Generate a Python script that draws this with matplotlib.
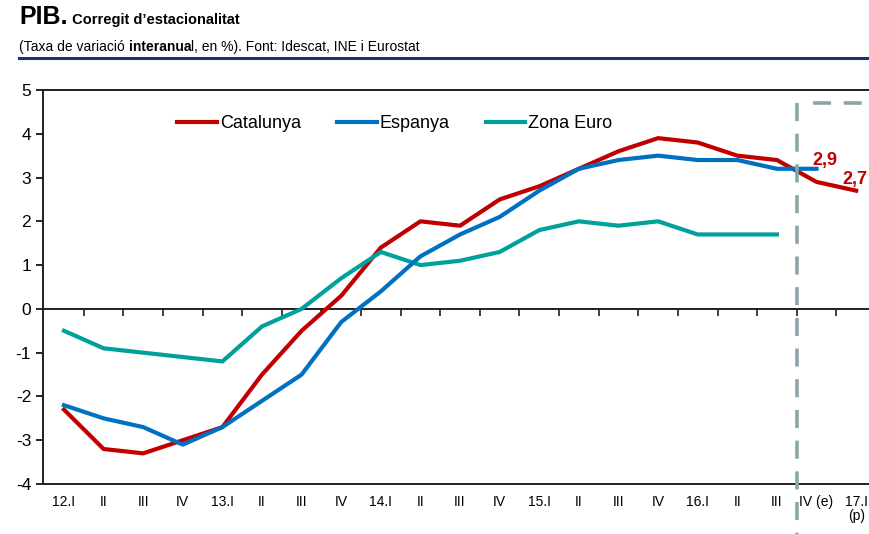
#!/usr/bin/env python3
"""
PIB corregit d'estacionalitat: Catalunya, Espanya i Zona Euro (taxa interanual).
"""

import matplotlib
matplotlib.use("Agg")
import matplotlib.pyplot as plt
from matplotlib.lines import Line2D

plt.rcParams["font.family"] = ["Liberation Sans", "DejaVu Sans"]
plt.rcParams["axes.unicode_minus"] = False

quarters = ["12.I", "II", "III", "IV", "13.I", "II", "III", "IV", "14.I", "II", "III", "IV",
            "15.I", "II", "III", "IV", "16.I", "II", "III", "IV (e)", "17.I\n(p)"]
catalunya = [-2.3, -3.2, -3.3, -3.0, -2.7, -1.5, -0.5, 0.3, 1.4, 2.0, 1.9, 2.5,
             2.8, 3.2, 3.6, 3.9, 3.8, 3.5, 3.4, 2.9, 2.7]
espanya = [-2.2, -2.5, -2.7, -3.1, -2.7, -2.1, -1.5, -0.3, 0.4, 1.2, 1.7, 2.1,
           2.7, 3.2, 3.4, 3.5, 3.4, 3.4, 3.2, 3.2]
zona_euro = [-0.5, -0.9, -1.0, -1.1, -1.2, -0.4, 0.0, 0.7, 1.3, 1.0, 1.1, 1.3,
             1.8, 2.0, 1.9, 2.0, 1.7, 1.7, 1.7]
labels_end = {19: "2,9", 20: "2,7"}

RED = "#C00000"
BLUE = "#0070C0"
TEAL = "#00A19A"
GREY = "#8CA5A8"

fig = plt.figure(figsize=(8.7, 5.34), dpi=100)
ax = fig.add_axes([0.0494, 0.0936, 0.9506, 0.7379])

ax.plot(range(len(catalunya)), catalunya, color=RED, lw=3, zorder=3)
ax.plot(range(len(zona_euro)), zona_euro, color=TEAL, lw=3, zorder=4)
ax.plot(range(len(espanya)), espanya, color=BLUE, lw=3, zorder=5)

# value labels for the last two Catalunya points
label_offsets = {19: (0.2, 0.48), 20: (-0.35, 0.25)}
for i, txt in labels_end.items():
    dx, dy = label_offsets[i]
    ax.text(i + dx, catalunya[i] + dy, txt, color=RED, fontsize=13, fontweight="bold",
            ha="center" if i == 19 else "left", va="center", zorder=6, clip_on=False)

# forecast separator
ax.plot([18.51, 18.51], [4.7, -5.3], color=GREY, lw=2.6, dashes=(5, 3.5),
        clip_on=False, zorder=6)
ax.plot([18.9, 20.6], [4.7, 4.7], color=GREY, lw=2.6, dashes=(5, 3.5),
        clip_on=False, zorder=6)

ax.set_xlim(-0.53, 20.35)
ax.set_ylim(-4, 5)
ax.set_yticks(range(-4, 6))
ax.set_xticks(range(len(quarters)))
ax.set_xticklabels(quarters, fontsize=10, linespacing=1.0)
ax.tick_params(axis="x", length=0, pad=8)
ax.tick_params(axis="y", direction="out", length=5, width=1.2, labelsize=12.5)

for side in ("left", "bottom", "top"):
    ax.spines[side].set_linewidth(1.4)
    ax.spines[side].set_color("#202020")
ax.spines["right"].set_visible(False)

# zero line with category separators
ax.axhline(0, color="#202020", lw=1.4, zorder=2)
sec = ax.secondary_xaxis(4 / 9)
sec.set_xticks([i + 0.5 for i in range(len(quarters) - 1)])
sec.set_xticklabels([])
sec.tick_params(direction="out", length=5, width=1.2, color="#202020")
sec.spines["bottom"].set_visible(False)

handles = [Line2D([], [], color=RED, lw=3), Line2D([], [], color=BLUE, lw=3),
           Line2D([], [], color=TEAL, lw=3)]
ax.legend(handles, ["Catalunya", "Espanya", "Zona Euro"], loc="center left",
          bbox_to_anchor=(0.143, 0.915), ncol=3, frameon=False, fontsize=13,
          handlelength=2.2, handletextpad=0.15, columnspacing=2.0)

# title block, pieces placed one after another
renderer = fig.canvas.get_renderer()


def chain(parts, x, y):
    for txt, size, weight in parts:
        t = fig.text(x, y, txt, fontsize=size, fontweight=weight, va="baseline")
        bb = t.get_window_extent(renderer=renderer)
        x = bb.x1 / fig.bbox.width


chain([("PIB.", 18, "bold"), (" Corregit d\u2019estacionalitat", 10.5, "bold")], 0.022, 0.955)
chain([("(Taxa de variació ", 10, "normal"), ("interanua", 10, "bold"),
       ("l, en %). Font: Idescat, INE i Eurostat", 10, "normal")], 0.022, 0.905)
fig.add_artist(Line2D([0.022, 1.0], [0.892, 0.892], color="#1F2F70", lw=2.2,
                      transform=fig.transFigure))

fig.savefig("out.png", dpi=100)
plt.close(fig)
